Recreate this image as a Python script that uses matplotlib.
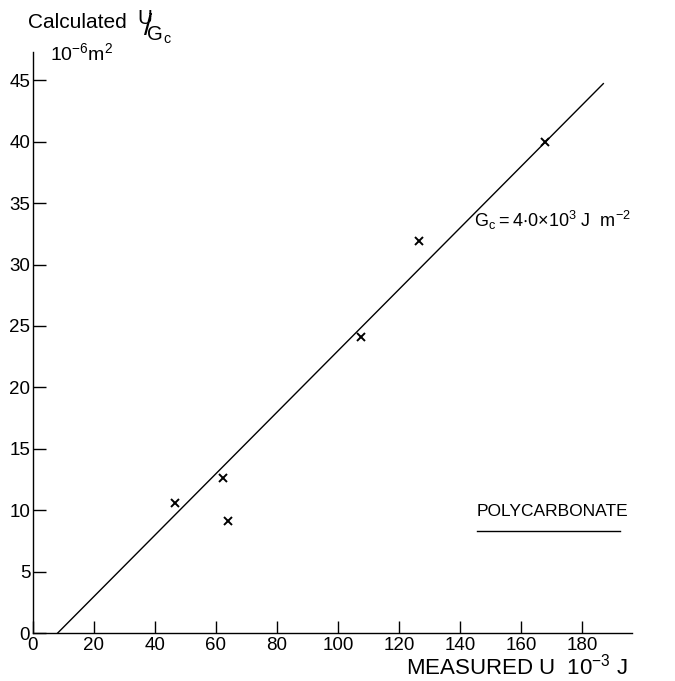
import matplotlib
matplotlib.use("Agg")
import matplotlib.pyplot as plt

plt.rcParams['font.family'] = ['Liberation Sans', 'DejaVu Sans']
plt.rcParams['mathtext.default'] = 'regular'

# measured U (10^-3 J) vs calculated U/Gc (10^-6 m^2)
measured_u = [46.6, 62.2, 64.0, 107.5, 126.6, 167.9]
calc_u_gc = [10.6, 12.6, 9.1, 24.1, 31.9, 40.0]

# fitted line, slope = 1/Gc
line_x = [8.1, 187.0]
gc = 4.0
line_y = [(x - line_x[0]) / gc for x in line_x]

x_ticks = [0, 20, 40, 60, 80, 100, 120, 140, 160, 180]
y_ticks = [0, 5, 10, 15, 20, 25, 30, 35, 40, 45]

fig = plt.figure(figsize=(6.75, 6.81), dpi=100)
ax = fig.add_axes([33 / 675, 48 / 681, 599 / 675, 581 / 681])

ax.plot(line_x, line_y, color='black', linewidth=1.0)
ax.plot(measured_u, calc_u_gc, 'x', color='black', markersize=5.5, markeredgewidth=1.4)

ax.set_xlim(0, 196.4)
ax.set_ylim(0, 47.3)
ax.set_xticks(x_ticks)
ax.set_yticks(y_ticks)
ax.tick_params(direction='in', length=9, width=1.0, labelsize=13.5, colors='black')
ax.tick_params(axis='x', pad=3)
ax.tick_params(axis='y', pad=2)

for s in ['top', 'right']:
    ax.spines[s].set_visible(False)
for s in ['left', 'bottom']:
    ax.spines[s].set_linewidth(1.0)

# axis titles
fig.text(28 / 675, 1 - 22 / 681, 'Calculated', fontsize=15, ha='left', va='center')
fig.text(137 / 675, 1 - 27 / 681, r'$^{U}\!\!/\!_{G_c}$', fontsize=21,
         ha='left', va='center')
fig.text(50 / 675, 1 - 53 / 681, r'$10^{-6}m^{2}$', fontsize=14, ha='left', va='center')
fig.text(628 / 675, 1 - 667 / 681, r'MEASURED U  $10^{-3}$ J', fontsize=16,
         ha='right', va='center')

# annotations
ax.text(144.5, 33.6, r'$G_c = 4{\cdot}0{\times}10^{3}$ J  $m^{-2}$', fontsize=13,
        ha='left', va='center')
ax.text(145.5, 9.9, 'POLYCARBONATE', fontsize=12.5, ha='left', va='center')
ax.plot([145.5, 192.5], [8.3, 8.3], color='black', linewidth=1.0, clip_on=False)

fig.savefig('out.png', dpi=100)
